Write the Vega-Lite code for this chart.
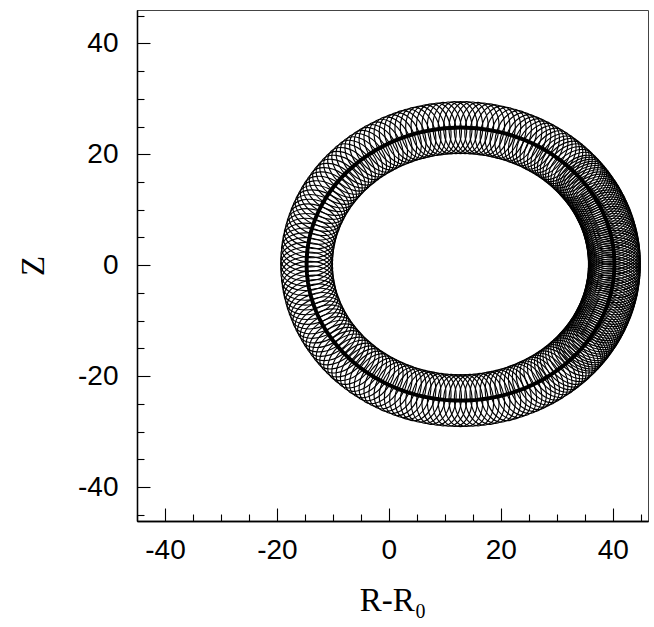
{
  "$schema": "https://vega.github.io/schema/vega-lite/v6.json",
  "autosize": "none",
  "width": 511,
  "height": 511,
  "padding": {"left": 137, "top": 10, "right": 6, "bottom": 106},
  "background": "white",
  "config": {
    "view": {"stroke": "#444", "strokeWidth": 1},
    "axis": {
      "grid": false,
      "domainColor": "black",
      "domainWidth": 1.3,
      "tickColor": "black",
      "tickWidth": 1.1,
      "labelFont": "Liberation Sans",
      "labelFontSize": 28,
      "labelColor": "black",
      "titleFont": "Liberation Serif",
      "titleFontWeight": "normal",
      "titleColor": "black",
      "titleFontSize": 33
    }
  },
  "data": {
    "values": [
      {"t": 0, "r": 40.30, "z": 0.20}, {"t": 1, "r": 40.30, "z": 0.63}, {"t": 2, "r": 40.28, "z": 1.06}, {"t": 3, "r": 40.26, "z": 1.49},
      {"t": 4, "r": 40.23, "z": 1.92}, {"t": 5, "r": 40.20, "z": 2.34}, {"t": 6, "r": 40.15, "z": 2.77}, {"t": 7, "r": 40.10, "z": 3.20},
      {"t": 8, "r": 40.03, "z": 3.62}, {"t": 9, "r": 39.96, "z": 4.05}, {"t": 10, "r": 39.88, "z": 4.47}, {"t": 11, "r": 39.80, "z": 4.89},
      {"t": 12, "r": 39.70, "z": 5.32}, {"t": 13, "r": 39.60, "z": 5.73}, {"t": 14, "r": 39.48, "z": 6.15}, {"t": 15, "r": 39.36, "z": 6.57},
      {"t": 16, "r": 39.24, "z": 6.98}, {"t": 17, "r": 39.10, "z": 7.39}, {"t": 18, "r": 38.95, "z": 7.80}, {"t": 19, "r": 38.80, "z": 8.21},
      {"t": 20, "r": 38.64, "z": 8.61}, {"t": 21, "r": 38.47, "z": 9.02}, {"t": 22, "r": 38.30, "z": 9.42}, {"t": 23, "r": 38.11, "z": 9.81},
      {"t": 24, "r": 37.92, "z": 10.21}, {"t": 25, "r": 37.72, "z": 10.60}, {"t": 26, "r": 37.52, "z": 10.98}, {"t": 27, "r": 37.30, "z": 11.37},
      {"t": 28, "r": 37.08, "z": 11.75}, {"t": 29, "r": 36.85, "z": 12.13}, {"t": 30, "r": 36.62, "z": 12.50}, {"t": 31, "r": 36.37, "z": 12.87},
      {"t": 32, "r": 36.12, "z": 13.24}, {"t": 33, "r": 35.86, "z": 13.60}, {"t": 34, "r": 35.60, "z": 13.96}, {"t": 35, "r": 35.33, "z": 14.31},
      {"t": 36, "r": 35.05, "z": 14.66}, {"t": 37, "r": 34.76, "z": 15.01}, {"t": 38, "r": 34.47, "z": 15.35}, {"t": 39, "r": 34.17, "z": 15.68},
      {"t": 40, "r": 33.87, "z": 16.01}, {"t": 41.5, "r": 33.40, "z": 16.50}, {"t": 43, "r": 32.91, "z": 16.98}, {"t": 44.5, "r": 32.41, "z": 17.44},
      {"t": 46, "r": 31.90, "z": 17.90}, {"t": 47.5, "r": 31.38, "z": 18.34}, {"t": 49, "r": 30.84, "z": 18.77}, {"t": 50.5, "r": 30.29, "z": 19.18},
      {"t": 52, "r": 29.73, "z": 19.59}, {"t": 53.75, "r": 29.06, "z": 20.04}, {"t": 55.5, "r": 28.38, "z": 20.47}, {"t": 57.25, "r": 27.68, "z": 20.89},
      {"t": 59, "r": 26.96, "z": 21.29}, {"t": 60.75, "r": 26.24, "z": 21.66}, {"t": 62.5, "r": 25.50, "z": 22.02}, {"t": 64.25, "r": 24.75, "z": 22.36},
      {"t": 66, "r": 23.99, "z": 22.67}, {"t": 68, "r": 23.10, "z": 23.01}, {"t": 70, "r": 22.21, "z": 23.32}, {"t": 72, "r": 21.30, "z": 23.60},
      {"t": 74, "r": 20.38, "z": 23.85}, {"t": 76, "r": 19.45, "z": 24.07}, {"t": 78, "r": 18.52, "z": 24.26}, {"t": 80, "r": 17.58, "z": 24.43},
      {"t": 82, "r": 16.63, "z": 24.56}, {"t": 84, "r": 15.68, "z": 24.67}, {"t": 86, "r": 14.72, "z": 24.74}, {"t": 88, "r": 13.76, "z": 24.79},
      {"t": 90, "r": 12.80, "z": 24.80}, {"t": 92, "r": 11.84, "z": 24.79}, {"t": 94, "r": 10.88, "z": 24.74}, {"t": 96, "r": 9.93, "z": 24.67},
      {"t": 98, "r": 8.97, "z": 24.56}, {"t": 100, "r": 8.03, "z": 24.43}, {"t": 102, "r": 7.08, "z": 24.26}, {"t": 104, "r": 6.15, "z": 24.07},
      {"t": 106, "r": 5.22, "z": 23.85}, {"t": 108, "r": 4.30, "z": 23.60}, {"t": 110, "r": 3.39, "z": 23.32}, {"t": 112, "r": 2.50, "z": 23.01},
      {"t": 114, "r": 1.62, "z": 22.67}, {"t": 116, "r": 0.75, "z": 22.31}, {"t": 118, "r": -0.11, "z": 21.92}, {"t": 120, "r": -0.95, "z": 21.50},
      {"t": 122, "r": -1.77, "z": 21.06}, {"t": 124, "r": -2.58, "z": 20.59}, {"t": 126, "r": -3.36, "z": 20.10}, {"t": 128, "r": -4.13, "z": 19.59},
      {"t": 130, "r": -4.88, "z": 19.05}, {"t": 132, "r": -5.60, "z": 18.48}, {"t": 134, "r": -6.30, "z": 17.90}, {"t": 136, "r": -6.98, "z": 17.29},
      {"t": 138, "r": -7.64, "z": 16.66}, {"t": 140, "r": -8.27, "z": 16.01}, {"t": 142, "r": -8.87, "z": 15.35}, {"t": 144, "r": -9.45, "z": 14.66},
      {"t": 146, "r": -10.00, "z": 13.96}, {"t": 148, "r": -10.52, "z": 13.24}, {"t": 150, "r": -11.02, "z": 12.50}, {"t": 152, "r": -11.48, "z": 11.75},
      {"t": 154, "r": -11.92, "z": 10.98}, {"t": 156, "r": -12.32, "z": 10.21}, {"t": 158, "r": -12.70, "z": 9.42}, {"t": 160, "r": -13.04, "z": 8.61},
      {"t": 162, "r": -13.35, "z": 7.80}, {"t": 164, "r": -13.64, "z": 6.98}, {"t": 166, "r": -13.88, "z": 6.15}, {"t": 168, "r": -14.10, "z": 5.32},
      {"t": 170, "r": -14.28, "z": 4.47}, {"t": 172, "r": -14.43, "z": 3.62}, {"t": 174, "r": -14.55, "z": 2.77}, {"t": 176, "r": -14.63, "z": 1.92},
      {"t": 178, "r": -14.68, "z": 1.06}, {"t": 180, "r": -14.70, "z": 0.20}, {"t": 182, "r": -14.68, "z": -0.66}, {"t": 184, "r": -14.63, "z": -1.52},
      {"t": 186, "r": -14.55, "z": -2.37}, {"t": 188, "r": -14.43, "z": -3.22}, {"t": 190, "r": -14.28, "z": -4.07}, {"t": 192, "r": -14.10, "z": -4.92},
      {"t": 194, "r": -13.88, "z": -5.75}, {"t": 196, "r": -13.64, "z": -6.58}, {"t": 198, "r": -13.35, "z": -7.40}, {"t": 200, "r": -13.04, "z": -8.21},
      {"t": 202, "r": -12.70, "z": -9.02}, {"t": 204, "r": -12.32, "z": -9.81}, {"t": 206, "r": -11.92, "z": -10.58}, {"t": 208, "r": -11.48, "z": -11.35},
      {"t": 210, "r": -11.02, "z": -12.10}, {"t": 212, "r": -10.52, "z": -12.84}, {"t": 214, "r": -10.00, "z": -13.56}, {"t": 216, "r": -9.45, "z": -14.26},
      {"t": 218, "r": -8.87, "z": -14.95}, {"t": 220, "r": -8.27, "z": -15.61}, {"t": 222, "r": -7.64, "z": -16.26}, {"t": 224, "r": -6.98, "z": -16.89},
      {"t": 226, "r": -6.30, "z": -17.50}, {"t": 228, "r": -5.60, "z": -18.08}, {"t": 230, "r": -4.88, "z": -18.65}, {"t": 232, "r": -4.13, "z": -19.19},
      {"t": 234, "r": -3.36, "z": -19.70}, {"t": 236, "r": -2.58, "z": -20.19}, {"t": 238, "r": -1.77, "z": -20.66}, {"t": 240, "r": -0.95, "z": -21.10},
      {"t": 242, "r": -0.11, "z": -21.52}, {"t": 244, "r": 0.75, "z": -21.91}, {"t": 246, "r": 1.62, "z": -22.27}, {"t": 248, "r": 2.50, "z": -22.61},
      {"t": 250, "r": 3.39, "z": -22.92}, {"t": 252, "r": 4.30, "z": -23.20}, {"t": 254, "r": 5.22, "z": -23.45}, {"t": 256, "r": 6.15, "z": -23.67},
      {"t": 258, "r": 7.08, "z": -23.86}, {"t": 260, "r": 8.03, "z": -24.03}, {"t": 262, "r": 8.97, "z": -24.16}, {"t": 264, "r": 9.93, "z": -24.27},
      {"t": 266, "r": 10.88, "z": -24.34}, {"t": 268, "r": 11.84, "z": -24.39}, {"t": 270, "r": 12.80, "z": -24.40}, {"t": 272, "r": 13.76, "z": -24.39},
      {"t": 274, "r": 14.72, "z": -24.34}, {"t": 276, "r": 15.68, "z": -24.27}, {"t": 278, "r": 16.63, "z": -24.16}, {"t": 280, "r": 17.58, "z": -24.03},
      {"t": 282, "r": 18.52, "z": -23.86}, {"t": 284, "r": 19.45, "z": -23.67}, {"t": 286, "r": 20.38, "z": -23.45}, {"t": 288, "r": 21.30, "z": -23.20},
      {"t": 290, "r": 22.21, "z": -22.92}, {"t": 292, "r": 23.10, "z": -22.61}, {"t": 294, "r": 23.99, "z": -22.27}, {"t": 295.75, "r": 24.75, "z": -21.96},
      {"t": 297.5, "r": 25.50, "z": -21.62}, {"t": 299.25, "r": 26.24, "z": -21.26}, {"t": 301, "r": 26.96, "z": -20.89}, {"t": 302.75, "r": 27.68, "z": -20.49},
      {"t": 304.5, "r": 28.38, "z": -20.07}, {"t": 306.25, "r": 29.06, "z": -19.64}, {"t": 308, "r": 29.73, "z": -19.19}, {"t": 309.5, "r": 30.29, "z": -18.78},
      {"t": 311, "r": 30.84, "z": -18.37}, {"t": 312.5, "r": 31.38, "z": -17.94}, {"t": 314, "r": 31.90, "z": -17.50}, {"t": 315.5, "r": 32.41, "z": -17.04},
      {"t": 317, "r": 32.91, "z": -16.58}, {"t": 318.5, "r": 33.40, "z": -16.10}, {"t": 320, "r": 33.87, "z": -15.61}, {"t": 321, "r": 34.17, "z": -15.28},
      {"t": 322, "r": 34.47, "z": -14.95}, {"t": 323, "r": 34.76, "z": -14.61}, {"t": 324, "r": 35.05, "z": -14.26}, {"t": 325, "r": 35.33, "z": -13.91},
      {"t": 326, "r": 35.60, "z": -13.56}, {"t": 327, "r": 35.86, "z": -13.20}, {"t": 328, "r": 36.12, "z": -12.84}, {"t": 329, "r": 36.37, "z": -12.47},
      {"t": 330, "r": 36.62, "z": -12.10}, {"t": 331, "r": 36.85, "z": -11.73}, {"t": 332, "r": 37.08, "z": -11.35}, {"t": 333, "r": 37.30, "z": -10.97},
      {"t": 334, "r": 37.52, "z": -10.58}, {"t": 335, "r": 37.72, "z": -10.20}, {"t": 336, "r": 37.92, "z": -9.81}, {"t": 337, "r": 38.11, "z": -9.41},
      {"t": 338, "r": 38.30, "z": -9.02}, {"t": 339, "r": 38.47, "z": -8.62}, {"t": 340, "r": 38.64, "z": -8.21}, {"t": 341, "r": 38.80, "z": -7.81},
      {"t": 342, "r": 38.95, "z": -7.40}, {"t": 343, "r": 39.10, "z": -6.99}, {"t": 344, "r": 39.24, "z": -6.58}, {"t": 345, "r": 39.36, "z": -6.17},
      {"t": 346, "r": 39.48, "z": -5.75}, {"t": 347, "r": 39.60, "z": -5.33}, {"t": 348, "r": 39.70, "z": -4.92}, {"t": 349, "r": 39.80, "z": -4.49},
      {"t": 350, "r": 39.88, "z": -4.07}, {"t": 351, "r": 39.96, "z": -3.65}, {"t": 352, "r": 40.03, "z": -3.22}, {"t": 353, "r": 40.10, "z": -2.80},
      {"t": 354, "r": 40.15, "z": -2.37}, {"t": 355, "r": 40.20, "z": -1.94}, {"t": 356, "r": 40.23, "z": -1.52}, {"t": 357, "r": 40.26, "z": -1.09},
      {"t": 358, "r": 40.28, "z": -0.66}, {"t": 359, "r": 40.30, "z": -0.23}
    ]
  },
  "resolve": {"axis": {"x": "independent", "y": "independent"}},
  "layer": [
    {
      "mark": {
        "type": "point",
        "shape": "M-1,0A1,0.65,0,1,0,1,0A1,0.65,0,1,0,-1,0Z",
        "filled": false,
        "stroke": "black",
        "strokeWidth": 1.15,
        "opacity": 1,
        "size": 2704
      },
      "encoding": {
        "x": {
          "field": "r",
          "type": "quantitative",
          "scale": {"domain": [-45, 46.3], "nice": false, "zero": false},
          "axis": {
            "orient": "bottom",
            "title": "R-R₀",
            "values": [-40, -20, 0, 20, 40],
            "labelExpr": "'' + datum.value",
            "tickSize": -13,
            "labelPadding": 28,
            "labelFlush": false,
            "labelOverlap": false,
            "titlePadding": 20
          }
        },
        "y": {
          "field": "z",
          "type": "quantitative",
          "scale": {"domain": [-46.1, 46], "nice": false, "zero": false},
          "axis": {
            "orient": "left",
            "title": "Z",
            "values": [-40, -20, 0, 20, 40],
            "labelExpr": "'' + datum.value",
            "tickSize": -13,
            "labelPadding": 32,
            "labelFlush": false,
            "labelOverlap": false,
            "titlePadding": 27
          }
        },
        "angle": {"field": "t", "type": "quantitative", "scale": {"domain": [0, 360], "range": [360, 0]}}
      }
    },
    {
      "mark": {"type": "line", "interpolate": "linear-closed", "color": "black", "strokeWidth": 4},
      "encoding": {
        "x": {
          "field": "r",
          "type": "quantitative",
          "axis": {
            "orient": "bottom",
            "title": null,
            "labels": false,
            "values": [-45, -35, -30, -25, -15, -10, -5, 5, 10, 15, 25, 30, 35, 45],
            "tickSize": -7
          }
        },
        "y": {
          "field": "z",
          "type": "quantitative",
          "axis": {
            "orient": "left",
            "title": null,
            "labels": false,
            "values": [-45, -35, -30, -25, -15, -10, -5, 5, 10, 15, 25, 30, 35, 45],
            "tickSize": -7
          }
        },
        "order": {"field": "t", "type": "quantitative"}
      }
    }
  ]
}
